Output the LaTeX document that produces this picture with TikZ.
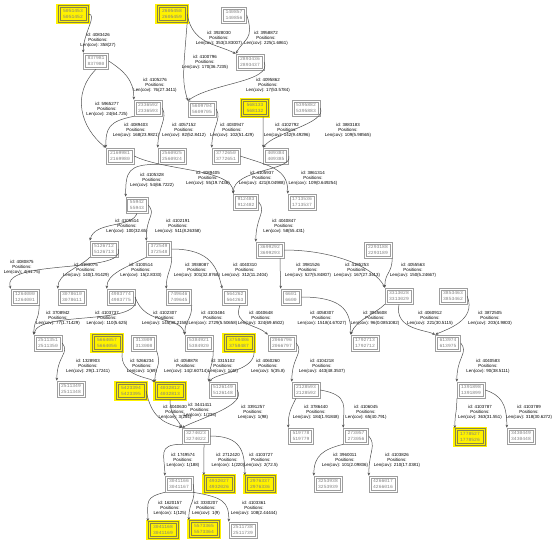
\documentclass[tikz,border=0pt]{standalone}
\usepackage{fontspec}
\newfontfamily\labfont{Liberation Sans}
\newfontfamily\numfont{Liberation Mono}
\usetikzlibrary{arrows.meta}
\newcommand{\elab}[4]{\node[lab] (#1) at (#2) {id: #3\\Positions:\\Len(cov): #4};}
\begin{document}
\begin{tikzpicture}[x=1pt,y=-1pt,
  nbox/.style={draw=black!38, line width=0.6pt,
    align=center, font={\numfont\fontsize{4.7pt}{6.7pt}\selectfont}, text=black!50,
    inner xsep=4pt, inner ysep=2.4pt, minimum height=16pt, minimum width=20pt,
    path picture={\draw[black!38, line width=0.6pt]
      ([shift={(1.8pt,-1.8pt)}]path picture bounding box.north west) rectangle
      ([shift={(-1.8pt,1.8pt)}]path picture bounding box.south east);}},
  ybox/.style={nbox, fill=yellow, draw=black!45!yellow!85!black,
    minimum height=17pt, inner xsep=5pt, preaction={draw=yellow, line width=3.5pt},
    path picture={\draw[black!45!yellow!85!black, line width=0.6pt]
      ([shift={(1.8pt,-1.8pt)}]path picture bounding box.north west) rectangle
      ([shift={(-1.8pt,1.8pt)}]path picture bounding box.south east);}},
  lab/.style={font={\labfont\fontsize{4.4pt}{5pt}\selectfont}, align=center, inner sep=0pt},
  e/.style={draw=black!68, line width=0.5pt, -{Stealth[length=3pt,width=2.6pt]}}]
\useasboundingbox (0,0) rectangle (554,539);
% nodes
\node[ybox] (n5051453) at (73,14) {5051453\\5051452};
\node[ybox] (n2605458) at (172,14) {2605458\\2605459};
\node[nbox] (n140857) at (234,15) {140857\\140856};
\node[nbox] (n837981) at (96,61) {837981\\837980};
\node[nbox] (n2893436) at (250,62) {2893436\\2893437};
\node[nbox] (n2336592) at (148,108) {2336592\\2336593};
\node[nbox] (n5609704) at (202,109) {5609704\\5609705};
\node[ybox] (n568133) at (255,108) {568133\\568132};
\node[nbox] (n5395882) at (306,108) {5395882\\5395883};
\node[nbox] (n2169981) at (120,156) {2169981\\2169980};
\node[nbox] (n2560925) at (172,156) {2560925\\2560924};
\node[nbox] (n3772650) at (226,156) {3772650\\3772651};
\node[nbox] (n409384) at (276,156) {409384\\409385};
\node[nbox] (n55942) at (137,205) {55942\\55943};
\node[nbox] (n912483) at (246,202) {912483\\912482};
\node[nbox] (n1713536) at (302,202) {1713536\\1713537};
\node[nbox] (n5126712) at (104,249) {5126712\\5126713};
\node[nbox] (n372549) at (159,249) {372549\\372548};
\node[nbox] (n3699292) at (270,250) {3699292\\3699293};
\node[nbox] (n2293188) at (378,250) {2293188\\2293189};
\node[nbox] (n1264000) at (25,297) {1264000\\1264001};
\node[nbox] (n3078610) at (72,297) {3078610\\3078611};
\node[nbox] (n4983774) at (121,297) {4983774\\4983775};
\node[nbox] (n749646) at (179,297) {749646\\749645};
\node[nbox] (n564262) at (235,297) {564262\\564263};
\node[nbox] (n6601) at (291,297) {6601\\6600};
\node[nbox] (n3313028) at (399,296) {3313028\\3313029};
\node[nbox] (n3853463) at (453,296) {3853463\\3853462};
\node[nbox] (n2511351) at (48,343) {2511351\\2511350};
\node[ybox] (n5664057) at (107,343) {5664057\\5664056};
\node[nbox] (n313009) at (144,343) {313009\\313008};
\node[nbox] (n5384921) at (199,343) {5384921\\5384920};
\node[ybox] (n3758486) at (239,343) {3758486\\3758487};
\node[nbox] (n2066796) at (282,343) {2066796\\2066797};
\node[nbox] (n1792713) at (365,343) {1792713\\1792712};
\node[nbox] (n613974) at (448,343) {613974\\613975};
\node[nbox] (n2511349) at (71,389) {2511349\\2511348};
\node[ybox] (n5423394) at (131,391) {5423394\\5423395};
\node[ybox] (n4032812) at (170,391) {4032812\\4032813};
\node[nbox] (n5126149) at (223,390) {5126149\\5126148};
\node[nbox] (n2128593) at (306,390) {2128593\\2128592};
\node[nbox] (n1391898) at (471,390) {1391898\\1391899};
\node[nbox] (n3274023) at (196,436) {3274023\\3274022};
\node[nbox] (n519778) at (301,436) {519778\\519779};
\node[nbox] (n273057) at (356,436) {273057\\273056};
\node[ybox] (n1778527) at (470,437) {1778527\\1778526};
\node[nbox] (n3430449) at (521,436) {3430449\\3430448};
\node[nbox] (n3041166) at (179,484) {3041166\\3041167};
\node[ybox] (n4932027) at (219,484) {4932027\\4932026};
\node[ybox] (n2976337) at (260,484) {2976337\\2976336};
\node[nbox] (n3253938) at (328,484) {3253938\\3253939};
\node[nbox] (n4266017) at (383,484) {4266017\\4266016};
\node[ybox] (n3041168) at (163,530) {3041168\\3041169};
\node[ybox] (n5573365) at (204,529) {5573365\\5573364};
\node[nbox] (n2511738) at (243,530) {2511738\\2511739};
% labels
\elab{l1}{98,40}{4083426}{358(27)}
\elab{l2}{219,38}{3928030}{353(3.83007)}
\elab{l3}{266,38}{3958872}{225(1.6861)}
\elab{l4}{155,85}{4105276}{76(27.3411)}
\elab{l5}{205,62}{4100796}{170(36.7235)}
\elab{l6}{268,85}{4095862}{17(53.5784)}
\elab{l7}{107,109}{5965277}{24(64.725)}
\elab{l8}{136,130}{4089403}{168(23.9821)}
\elab{l9}{184,130}{4057152}{82(52.8412)}
\elab{l10}{232,130}{4030947}{102(51.429)}
\elab{l11}{287,130}{4102792}{142(9.49296)}
\elab{l12}{348,130}{3883183}{109(5.98565)}
\elab{l13}{152,180}{4105328}{54(66.7222)}
\elab{l14}{208,178}{4089405}{55(19.7436)}
\elab{l15}{262,178}{4105937}{421(8.04988)}
\elab{l16}{313,178}{3861314}{109(0.649254)}
\elab{l17}{127,226}{4105514}{100(32.65)}
\elab{l18}{178,226}{4102191}{511(8.26358)}
\elab{l19}{284,226}{4040847}{58(55.431)}
\elab{l20}{22,267}{4080875}{4(41.75)}
\elab{l21}{86,270}{4103075}{140(1.91429)}
\elab{l22}{141,270}{4100514}{15(2.8333)}
\elab{l23}{197,270}{3938087}{301(32.8768)}
\elab{l24}{245,270}{4040310}{312(11.2404)}
\elab{l25}{308,270}{3981526}{527(5.84807)}
\elab{l26}{357,270}{4105253}{167(27.3413)}
\elab{l27}{413,270}{4055563}{150(5.24667)}
\elab{l28}{58,318}{3708942}{77(1.71429)}
\elab{l29}{107,318}{4103737}{110(5.625)}
\elab{l30}{165,318}{4102307}{145(38.2158)}
\elab{l31}{213,318}{4103484}{2729(5.50658)}
\elab{l32}{261,318}{4040648}{324(69.6502)}
\elab{l33}{322,318}{4058307}{1518(4.67027)}
\elab{l34}{375,318}{3945608}{96(0.0851082)}
\elab{l35}{430,318}{4060912}{221(30.5115)}
\elab{l36}{490,318}{3872505}{203(4.9803)}
\elab{l37}{88,366}{1328903}{29(1.17241)}
\elab{l38}{142,366}{5266234}{1(69)}
\elab{l39}{186,366}{4058878}{14(2.60714)}
\elab{l40}{223,366}{3315102}{1(42)}
\elab{l41}{268,366}{4060260}{5(35.8)}
\elab{l42}{322,366}{4104218}{443(48.3537)}
\elab{l43}{488,366}{4040583}{90(38.5111)}
\elab{l44}{175,412}{4040630}{3(254)}
\elab{l45}{200,410}{3441411}{1(233)}
\elab{l46}{253,412}{3391257}{1(98)}
\elab{l47}{316,412}{3786440}{184(1.91848)}
\elab{l48}{366,412}{4106045}{65(40.791)}
\elab{l49}{480,412}{4103787}{363(31.551)}
\elab{l50}{529,412}{4103789}{318(30.6272)}
\elab{l51}{183,460}{1749574}{1(188)}
\elab{l52}{228,460}{2712420}{1(220)}
\elab{l53}{261,460}{4103727}{2(72.5)}
\elab{l54}{345,460}{3960011}{101(2.09836)}
\elab{l55}{397,460}{4103826}{210(17.0381)}
\elab{l56}{170,508}{1620157}{1(125)}
\elab{l57}{206,508}{3330207}{1(9)}
\elab{l58}{254,508}{4103361}{108(2.44444)}
% edges
\draw[e] (n5051453.east) .. controls +(10,0) and +(0,-20) .. (n837981.north west);
\draw[e] (n2605458.east) .. controls +(5,30) and +(-20,-10) .. (n2893436.north west);
\draw[e] (n140857.east) .. controls +(8,25) and +(8,-15) .. (n2893436.north west);
\draw[e] (n837981.east) .. controls +(15,10) and +(0,-20) .. (n2336592.north west);
\draw[e] (n2605458.south east) .. controls +(-4,50) and +(-6,-20) .. (n5609704.north west);
\draw[e] (n2893436.east) .. controls +(8,20) and +(25,-18) .. (n5609704.north west);
\draw[e] (n837981.south) .. controls +(-25,25) and +(-25,-20) .. (n2169981.north west);
\draw[e] (n2336592.south west) .. controls +(-25,5) and +(0,-20) .. (n2169981.north west);
\draw[e] (n2336592.east) .. controls +(6,10) and +(0,-20) .. (n2560925.north west);
\draw[e] (n5609704.east) .. controls +(6,10) and +(0,-20) .. (n3772650.north west);
\draw[e] ([xshift=8pt]n568133.south) .. controls +(0,15) and +(0,-15) .. (n409384.north west);
\draw[e] (n5395882.east) .. controls +(8,15) and +(10,-15) .. (n409384.north west);
\draw[e] (n2560925.south west) .. controls +(-30,0) and +(0,-25) .. (n55942.north west);
\draw[e] (n2169981.east) .. controls +(30,15) and +(0,-25) .. (n912483.north west);
\draw[e] (n409384.east) .. controls +(5,15) and +(0,-25) .. (n912483.north west);
\draw[e] (n3772650.east) .. controls +(30,10) and +(0,-25) .. (n1713536.north west);
\draw[e] (n55942.south) .. controls +(-5,15) and +(5,-20) .. (n5126712.north west);
\draw[e] (n55942.east) .. controls +(8,10) and +(0,-25) .. (n372549.north west);
\draw[e] (n912483.east) .. controls +(8,10) and +(0,-25) .. (n3699292.north west);
\draw[e] (n5126712.east) .. controls +(10,25) and +(-10,-30) .. (n1264000.north west);
\draw[e] (n5126712.south west) .. controls +(-10,10) and +(0,-15) .. (n3078610.north west);
\draw[e] (n372549.south west) .. controls +(-20,10) and +(0,-15) .. (n4983774.north west);
\draw[e] (n372549.south east) .. controls +(0,12) and +(0,-15) .. (n749646.north west);
\draw[e] (n372549.east) .. controls +(40,0) and +(-5,-20) .. (n564262.north west);
\draw[e] ([xshift=10pt]n3699292.south) .. controls +(0,15) and +(0,-15) .. (n6601.north west);
\draw[e] (n3699292.east) .. controls +(50,0) and +(-10,-20) .. (n3313028.north west);
\draw[e] (n2293188.south east) .. controls +(0,15) and +(0,-15) .. (n3313028.north west);
\draw[e] (n1264000.south east) .. controls +(0,15) and +(0,-15) .. (n2511351.north west);
\draw[e] (n4983774.east) .. controls +(10,30) and +(5,-25) .. (n2511351.north west);
\draw[e] (n4983774.east) .. controls +(10,30) and +(-5,-20) .. (n5384921.north west);
\draw[e] (n749646.south east) .. controls +(0,15) and +(0,-15) .. (n5384921.north west);
\draw[e] ([xshift=5pt]n564262.south) .. controls +(-8,20) and +(-10,-10) .. (n2066796.north west);
\draw[e] (n6601.east) .. controls +(40,0) and +(0,-25) .. (n1792713.north west);
\draw[e] (n3313028.south west) .. controls +(-10,10) and +(5,-15) .. (n1792713.north west);
\draw[e] (n3313028.south) .. controls +(-5,25) and +(-10,-5) .. (n613974.north west);
\draw[e] (n3853463.east) .. controls +(10,25) and +(10,-5) .. (n613974.north west);
\draw[e] (n2511351.east) .. controls +(8,10) and +(0,-25) .. (n2511349.north west);
\draw[e] (n5664057.south east) .. controls +(-3,25) and +(-5,-5) .. (n4032812.north west);
\draw[e] (n313009.south east) .. controls +(5,15) and +(0,-15) .. (n4032812.north west);
\draw[e] (n5384921.south east) .. controls +(0,15) and +(0,-15) .. (n5126149.north west);
\draw[e] (n3758486.south east) .. controls +(0,20) and +(10,-10) .. (n5126149.north west);
\draw[e] (n2066796.east) .. controls +(8,10) and +(0,-25) .. (n2128593.north west);
\draw[e] (n613974.east) .. controls +(8,10) and +(0,-25) .. (n1391898.north west);
\draw[e] (n5423394.east) .. controls +(5,25) and +(-20,-5) .. (n3274023.north west);
\draw[e] (n4032812.south) .. controls +(0,15) and +(-5,-10) .. (n3274023.north west);
\draw[e] (n5126149.east) .. controls +(10,15) and +(20,-10) .. (n3274023.north west);
\draw[e] ([xshift=-10pt]n2128593.south) .. controls +(-5,10) and +(0,-15) .. (n519778.north west);
\draw[e] (n2128593.east) .. controls +(30,5) and +(0,-20) .. (n273057.north west);
\draw[e] (n1391898.south west) .. controls +(0,15) and +(0,-15) .. (n1778527.north west);
\draw[e] (n1391898.east) .. controls +(15,5) and +(0,-25) .. (n3430449.north west);
\draw[e] (n3274023.south west) .. controls +(-25,0) and +(0,-20) .. (n3041166.north west);
\draw[e] ([xshift=8pt]n3274023.south) .. controls +(0,15) and +(0,-15) .. (n4932027.north west);
\draw[e] (n3274023.east) .. controls +(30,0) and +(0,-25) .. (n2976337.north west);
\draw[e] (n273057.south west) .. controls +(-20,5) and +(0,-20) .. (n3253938.north west);
\draw[e] (n273057.east) .. controls +(8,10) and +(0,-25) .. (n4266017.north west);
\draw[e] (n3041166.south west) .. controls +(-20,5) and +(0,-20) .. (n3041168.north west);
\draw[e] (n3041166.east) .. controls +(3,20) and +(0,-20) .. (n5573365.north west);
\draw[e] (n3041166.south east) .. controls +(30,5) and +(0,-20) .. (n2511738.north west);
\end{tikzpicture}
\end{document}
